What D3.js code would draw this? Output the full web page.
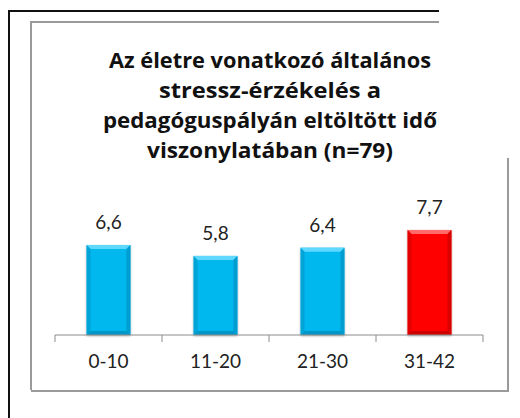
<!DOCTYPE html>
<html>
<head>
<meta charset="utf-8">
<script src="https://cdn.jsdelivr.net/npm/d3@7"></script>
<style>
  body { margin: 0; background: #fff; }
  svg { display: block; font-family: Lato, "Open Sans", sans-serif; }
</style>
</head>
<body>
<svg width="520" height="418"></svg>
<script>
"use strict";
var categories = ["0-10", "11-20", "21-30", "31-42"];
var values = [6.6, 5.8, 6.4, 7.7];
var valueLabels = ["6,6", "5,8", "6,4", "7,7"];
var titleLines = ["Az életre vonatkozó általános", "stressz-érzékelés a",
    "pedagóguspályán eltöltött idő", "viszonylatában (n=79)"];

// widths the title lines are fitted to (layout only)
var titleWidths = [322, 222, 334, 246];

var svg = d3.select("svg");

// frames (outer black one, inner gray one partly cut off)
var frame = svg.append("g").attr("fill", "none");
frame.append("path").attr("d", "M9,418V11H439").attr("stroke", "#111").attr("stroke-width", 2);
frame.append("path").attr("d", "M31,390V22H439").attr("stroke", "#9a9a9a").attr("stroke-width", 2);
frame.append("path").attr("d", "M31,391H508V158").attr("stroke", "#9a9a9a").attr("stroke-width", 2);

// title
svg.append("g")
    .attr("text-anchor", "middle")
    .attr("font-weight", "bold")
    .attr("font-family", "'Open Sans', sans-serif")
    .attr("font-size", 20.5)
    .attr("fill", "#111")
    .selectAll("text")
    .data(titleLines)
    .enter().append("text")
    .attr("x", 270)
    .attr("y", function (d, i) { return 68 + i * 30; })
    .attr("textLength", function (d, i) { return titleWidths[i]; })
    .attr("lengthAdjust", "spacingAndGlyphs")
    .text(function (d) { return d; });

var x = d3.scaleBand().domain(categories).range([55, 483]).paddingInner(0).paddingOuter(0);
var y = d3.scaleLinear().domain([0, 8]).range([335, 335 - 8 * 13.64]);
var bw = x.bandwidth() * 0.41;

var defs = svg.append("defs");
var f = defs.append("filter").attr("id", "shadow").attr("x", "-20%").attr("y", "-20%").attr("width", "140%").attr("height", "140%");
f.append("feDropShadow").attr("dx", 0).attr("dy", 1).attr("stdDeviation", 1.2).attr("flood-opacity", 0.35);

var colors = ["#00b7ee", "#00b7ee", "#00b7ee", "#fe0000"];
var light = ["#5fd8ff", "#5fd8ff", "#5fd8ff", "#ff6a6a"];
var dark = ["#0097c8", "#0097c8", "#0097c8", "#d00000"];

var bars = svg.append("g").selectAll("g")
    .data(values)
    .enter().append("g")
    .attr("transform", function (d, i) {
        return "translate(" + (x(categories[i]) + (x.bandwidth() - bw) / 2) + "," + y(d) + ")";
    });

bars.append("rect")
    .attr("width", bw)
    .attr("height", function (d) { return y(0) - y(d); })
    .attr("fill", function (d, i) { return colors[i]; })
    .attr("filter", "url(#shadow)");

// bevel edges
var e = 4;
bars.append("path")
    .attr("d", "M0,0H" + bw + "L" + (bw - e) + "," + e + "H" + e + "Z")
    .attr("fill", function (d, i) { return light[i]; });
bars.append("path")
    .attr("d", function (d) { var h = y(0) - y(d); return "M0,0L" + e + "," + e + "V" + (h - e) + "L0," + h + "Z"; })
    .attr("fill", function (d, i) { return dark[i]; }).attr("opacity", 0.6);
bars.append("path")
    .attr("d", function (d) { var h = y(0) - y(d); return "M" + bw + ",0L" + (bw - e) + "," + e + "V" + (h - e) + "L" + bw + "," + h + "Z"; })
    .attr("fill", function (d, i) { return dark[i]; }).attr("opacity", 0.8);
bars.append("path")
    .attr("d", function (d) { var h = y(0) - y(d); return "M0," + h + "L" + e + "," + (h - e) + "H" + (bw - e) + "L" + bw + "," + h + "Z"; })
    .attr("fill", function (d, i) { return dark[i]; });

// value labels
svg.append("g").selectAll("text")
    .data(values)
    .enter().append("text")
    .attr("x", function (d, i) { return x(categories[i]) + x.bandwidth() / 2; })
    .attr("y", function (d) { return y(d) - 16; })
    .attr("text-anchor", "middle")
    .attr("font-size", 19)
    .attr("fill", "#222")
    .text(function (d, i) { return valueLabels[i]; });

// x axis
var axis = svg.append("g")
    .attr("transform", "translate(0," + y(0) + ")")
    .call(d3.axisBottom(x).tickSize(0).tickPadding(20));
axis.select(".domain").attr("stroke", "#8c8c8c").attr("d", "M55,0H483");
axis.selectAll("text").attr("font-size", 19).attr("fill", "#222").attr("font-family", "Lato, sans-serif");
axis.selectAll(".sep")
    .data([55].concat(categories.map(function (c) { return x(c) + x.bandwidth(); })))
    .enter().append("line")
    .attr("x1", function (d) { return d; }).attr("x2", function (d) { return d; })
    .attr("y1", 0).attr("y2", 7)
    .attr("stroke", "#8c8c8c");
</script>
</body>
</html>
